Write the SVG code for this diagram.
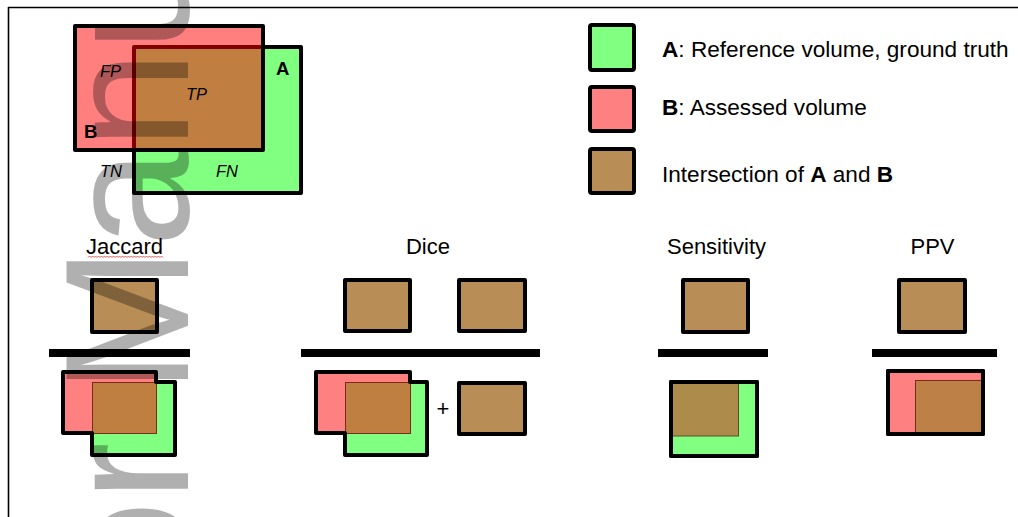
<svg xmlns="http://www.w3.org/2000/svg" width="1018" height="517" viewBox="0 0 1018 517">
<style>
  text { font-family: "Liberation Sans", Arial, sans-serif; fill: #000; }
  .lg { font-size: 22.6px; }
  .ttl { font-size: 22px; text-anchor: middle; }
  .it { font-style: italic; font-size: 16.5px; }
  .bd { font-weight: bold; }
  .box { stroke: #000; stroke-width: 4; stroke-linejoin: round; }
  .num { fill: #b98e56; }
  .grn { fill: #80ff80; }
  .red { fill: #ff8080; }
  .bar { fill: #000; }
  .inner { stroke: #7a2a1a; stroke-width: 1; }
  .wm { font-size: 176px; fill: #000; fill-opacity: 0.31; }
</style>

<!-- page frame -->
<g id="frame" fill="none" stroke="#000" stroke-width="1.6">
  <path d="M8 7.5 H1018 M8.5 7 V517"/>
</g>

<!-- overview diagram -->
<g id="overview">
  <rect x="134" y="47" width="167" height="146" class="box grn"/>
  <rect x="75" y="26" width="188" height="124" class="box" fill="#ff0000" fill-opacity="0.5"/>
  <text x="100" y="77" class="it">FP</text>
  <text x="186" y="100" class="it">TP</text>
  <text x="100" y="177" class="it">TN</text>
  <text x="216" y="177" class="it">FN</text>
  <text x="84" y="138" class="bd" font-size="18.5">B</text>
  <text x="276" y="75" class="bd" font-size="18.5">A</text>
</g>

<!-- legend -->
<g id="legend-a">
  <rect x="590" y="25" width="44" height="45" rx="2" class="box grn"/>
  <text x="662" y="57" class="lg"><tspan class="bd">A</tspan>: Reference volume, ground truth</text>
</g>
<g id="legend-b">
  <rect x="590" y="87" width="44" height="44" rx="2" class="box red"/>
  <text x="662" y="115" class="lg"><tspan class="bd">B</tspan>: Assessed volume</text>
</g>
<g id="legend-ab">
  <rect x="590" y="149" width="44" height="44" rx="2" class="box num"/>
  <text x="662" y="182" class="lg">Intersection of <tspan class="bd">A</tspan> and <tspan class="bd">B</tspan></text>
</g>

<!-- Jaccard -->
<g id="jaccard">
  <text x="124.5" y="254" class="ttl">Jaccard</text>
  <path d="M88 257.5 l1.5 -1.5 l1.5 1.5 l1.5 -1.5 l1.5 1.5 l1.5 -1.5 l1.5 1.5 l1.5 -1.5 l1.5 1.5 l1.5 -1.5 l1.5 1.5 l1.5 -1.5 l1.5 1.5 l1.5 -1.5 l1.5 1.5 l1.5 -1.5 l1.5 1.5 l1.5 -1.5 l1.5 1.5 l1.5 -1.5 l1.5 1.5 l1.5 -1.5 l1.5 1.5 l1.5 -1.5 l1.5 1.5 l1.5 -1.5 l1.5 1.5 l1.5 -1.5 l1.5 1.5 l1.5 -1.5 l1.5 1.5 l1.5 -1.5 l1.5 1.5 l1.5 -1.5 l1.5 1.5 l1.5 -1.5 l1.5 1.5 l1.5 -1.5 l1.5 1.5 l1.5 -1.5 l1.5 1.5 l1.5 -1.5 l1.5 1.5 l1.5 -1.5 l1.5 1.5 l1.5 -1.5 l1.5 1.5 l1.5 -1.5 l1.5 1.5 l1.5 -1.5 l1.5 1.5" fill="none" stroke="#e03030" stroke-width="0.8"/>
  <rect x="92" y="280" width="65" height="52" class="box num"/>
  <rect x="49" y="349" width="141" height="8" class="bar"/>
  <rect x="63" y="372" width="93" height="61" class="red"/>
  <rect x="92" y="382" width="83" height="73" class="grn"/>
  <rect x="92.5" y="382.5" width="64" height="51" fill="#bf7f40" class="inner"/>
  <path d="M63 372 H156 V382 H175 V455 H92 V433 H63 Z" fill="none" class="box"/>
</g>

<!-- Dice -->
<g id="dice">
  <text x="428" y="254" class="ttl">Dice</text>
  <rect x="345" y="280" width="65" height="51" class="box num"/>
  <rect x="459" y="280" width="66" height="51" class="box num"/>
  <rect x="301" y="349" width="239" height="8" class="bar"/>
  <rect x="316" y="372" width="94" height="60" class="red"/>
  <rect x="345" y="382" width="82" height="73" class="grn"/>
  <rect x="345.5" y="382.5" width="65" height="51" fill="#bf7f40" class="inner"/>
  <path d="M316 372 H410 V382 H427 V455 H345 V433 H316 Z" fill="none" class="box"/>
  <text x="443" y="416" class="ttl">+</text>
  <rect x="459" y="383" width="66" height="51" class="box num"/>
</g>

<!-- Sensitivity -->
<g id="sensitivity">
  <text x="716.5" y="254" class="ttl">Sensitivity</text>
  <rect x="683" y="280" width="65" height="52" class="box num"/>
  <rect x="658" y="349" width="110" height="8" class="bar"/>
  <rect x="671" y="382" width="86" height="74" class="box grn"/>
  <rect x="672.5" y="383" width="66" height="53" fill="#ad8b4b" stroke="#5a4a2a" stroke-width="1"/>
  <rect x="671" y="382" width="86" height="74" fill="none" class="box"/>
</g>

<!-- PPV -->
<g id="ppv">
  <text x="932.5" y="254" class="ttl">PPV</text>
  <rect x="899" y="280" width="66" height="52" class="box num"/>
  <rect x="872" y="349" width="125" height="8" class="bar"/>
  <rect x="888" y="371" width="95" height="63" class="box red"/>
  <rect x="915.5" y="380.5" width="67" height="53" fill="#bd8148" class="inner"/>
  <rect x="888" y="371" width="95" height="63" fill="none" class="box"/>
</g>

<!-- watermark -->
<g id="watermark">
  <text class="wm" transform="translate(188 961) rotate(-90)">Author Manuscript</text>
</g>
</svg>
